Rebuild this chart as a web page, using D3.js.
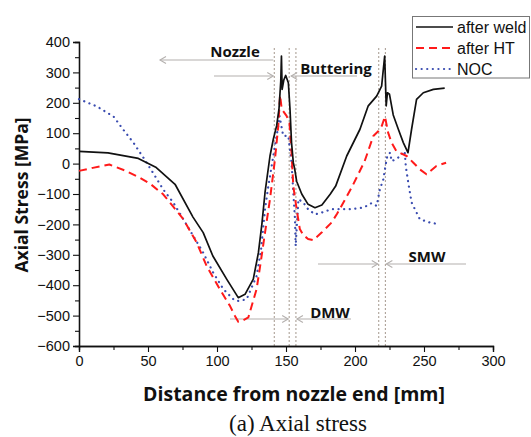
<!DOCTYPE html>
<html>
<head>
<meta charset="utf-8">
<script src="https://cdn.jsdelivr.net/npm/d3@7"></script>
<style>
  html, body { margin: 0; padding: 0; background: #fff; }
  svg { display: block; }
</style>
</head>
<body>
<svg id="chart" width="531" height="437"></svg>
<script>
// Axial stress along the pipe, distance in mm from the nozzle end
const afterWeld = [
  [0, 40], [21, 35], [30, 28], [43, 17], [56, -13], [69.6, -68], [82.6, -176],
  [90, -227], [97, -304], [107, -380], [115.4, -441], [120.3, -430], [126.3, -380],
  [130, -293], [132.5, -200], [134.8, -95], [138.4, 25], [140.8, 80], [143.2, 124],
  [144.9, 179], [146.2, 270], [146.7, 354], [147.2, 244], [148.4, 275], [149.8, 290],
  [151.7, 266], [152.9, 179], [154, 69], [155.3, 3], [156.2, -15], [157.7, -58],
  [161.4, -100], [166, -134], [171, -145], [176, -136], [182, -101], [186, -74],
  [194, 25], [203.6, 113], [209.6, 190], [215.7, 222], [219.3, 255], [221.5, 354],
  [222.6, 190], [223.5, 233], [225, 228], [227.7, 160], [231.4, 113], [235, 69],
  [238.4, 36], [241, 113], [244.6, 211], [249.5, 233], [256.8, 244], [265, 248]
];

const afterHT = [
  [0, -24], [10, -14], [22, -3], [33, -22], [44, -46], [52, -68], [61, -101],
  [68, -140], [75.6, -183], [85.3, -260], [92.5, -337], [102, -413], [109.4, -468],
  [113, -501], [115.4, -520], [118, -518], [122.7, -506], [128.7, -413], [131.5, -330],
  [134.8, -227], [138.4, -117], [142, 14], [144.4, 124], [145.7, 225], [146.9, 179],
  [150.4, 157], [152.5, 135], [154, 36], [155.3, -74], [157.7, -150], [160, -215],
  [162.5, -235], [166, -248], [169.8, -252], [175.8, -227], [183, -194], [187, -165],
  [192, -125], [198, -75], [207, 8], [213.3, 91], [217, 107], [219.5, 125],
  [221.7, 155], [224, 102], [226.5, 69], [230, 41], [237.4, 25], [242.3, 3],
  [247, -19], [251.8, -35], [259, -8], [266, 3]
];

const noc = [
  [0, 212], [13, 188], [25, 155], [32, 112], [39.4, 69], [46.6, 20], [53.6, -30],
  [61, -85], [68.3, -128], [75.6, -183], [82.8, -238], [90, -293], [97.3, -359],
  [104.6, -413], [111.8, -446], [114, -452], [118, -450], [121.5, -446], [128.7, -370],
  [132, -280], [134.8, -150], [137.2, -74], [140.8, 25], [144.4, 124], [145.3, 157],
  [148, 91], [151.7, 91], [154, 3], [155.3, -95], [156.5, -183], [157, -271],
  [159, -117], [162.5, -128], [166, -150], [171, -167], [176, -161], [183, -150],
  [196, -150], [206, -145], [212, -130], [215.7, -139], [218, -85], [220.5, -52],
  [222, -10], [223.5, 28], [225.5, 36], [226.5, 8], [230, 15], [234, 30],
  [236, 41], [236.8, -8], [238.6, -63], [241, -128], [247, -183], [254.3, -194],
  [261.6, -200]
];

const seriesNames = ["after weld", "after HT", "NOC"];
const xTicks = [0, 50, 100, 150, 200, 250, 300];
const yTicks = [400, 300, 200, 100, 0, -100, -200, -300, -400, -500, -600];
// Zone boundaries (mm)
const zoneLines = [141.5, 152.3, 157.2, 217.2, 222];

const svg = d3.select("#chart");
const x = d3.scaleLinear().domain([0, 300]).range([79, 493]);
const y = d3.scaleLinear().domain([-600, 400]).range([346, 42]);

const tickFont = "'Liberation Sans', Arial, sans-serif";
const boldFont = "'Open Sans', 'Noto Sans', sans-serif";

// zone boundary lines
svg.append("g").selectAll("line").data(zoneLines).join("line")
  .attr("x1", d => x(d)).attr("x2", d => x(d))
  .attr("y1", 48).attr("y2", y(-600))
  .attr("stroke", "#9a8c80").attr("stroke-width", 0.9)
  .attr("stroke-dasharray", "2,2");

// region arrows
const arrowColor = "#b4b0ae";
function arrowLine(x1, x2, yy, headAt) {
  svg.append("line").attr("x1", x1).attr("x2", x2).attr("y1", yy).attr("y2", yy)
    .attr("stroke", arrowColor).attr("stroke-width", 1.1);
  if (headAt === "left") {
    svg.append("path").attr("d", `M${x1 + 6},${yy - 3.5} L${x1},${yy} L${x1 + 6},${yy + 3.5}`)
      .attr("fill", "none").attr("stroke", arrowColor).attr("stroke-width", 1.1);
  } else if (headAt === "right") {
    svg.append("path").attr("d", `M${x2 - 6},${yy - 3.5} L${x2},${yy} L${x2 - 6},${yy + 3.5}`)
      .attr("fill", "none").attr("stroke", arrowColor).attr("stroke-width", 1.1);
  }
}
arrowLine(160, x(141.5) - 1, 60, "left");
arrowLine(214, x(141.5) - 1, 76, "right");
arrowLine(x(152.3) + 2, 357, 76, "left");
arrowLine(230, x(152.3) - 1, 319, "right");
arrowLine(x(157.2) + 1, 351, 319, "left");
arrowLine(318, x(217.2) - 1, 264, "right");
arrowLine(x(222) + 1, 466, 264, "left");

const zoneLabels = [
  { t: "Nozzle", x: 235, y: 57 },
  { t: "Buttering", x: 336, y: 74 },
  { t: "DMW", x: 330, y: 318 },
  { t: "SMW", x: 427, y: 262 }
];
svg.append("g").selectAll("text").data(zoneLabels).join("text")
  .attr("x", d => d.x).attr("y", d => d.y).attr("text-anchor", "middle")
  .attr("font-family", boldFont).attr("font-weight", "bold").attr("font-size", 15)
  .attr("fill", "#111").text(d => d.t);

// axes
const xAxis = svg.append("g").attr("transform", `translate(0,${y(-600)})`)
  .call(d3.axisBottom(x).tickValues(xTicks).tickSize(6).tickPadding(4).tickFormat(d3.format("d")));
const xMinor = svg.append("g").attr("transform", `translate(0,${y(-600)})`)
  .call(d3.axisBottom(x).tickValues(d3.range(25, 300, 50)).tickSize(4).tickFormat(""));
const yAxis = svg.append("g").attr("transform", `translate(${x(0)},0)`)
  .call(d3.axisLeft(y).tickValues(yTicks).tickSize(6).tickPadding(3).tickFormat(d3.format("d")));
const yMinor = svg.append("g").attr("transform", `translate(${x(0)},0)`)
  .call(d3.axisLeft(y).tickValues(d3.range(-550, 400, 100)).tickSize(4).tickFormat(""));

[xAxis, xMinor, yAxis, yMinor].forEach(g => {
  g.select(".domain").attr("stroke", "#111").attr("stroke-width", 1.3);
  g.selectAll(".tick line").attr("stroke", "#111").attr("stroke-width", 1.1);
  g.selectAll("text").attr("font-family", tickFont).attr("font-size", 14.5).attr("fill", "#111");
});

// series lines
const line = d3.line().x(d => x(d[0])).y(d => y(d[1]));
const styles = [
  { data: afterWeld, color: "#111111", width: 1.7, dash: null, cap: "butt" },
  { data: afterHT, color: "#ff1a1a", width: 2, dash: "8,5", cap: "butt" },
  { data: noc, color: "#3a4cb0", width: 2.2, dash: "0.1,5.5", cap: "round" }
];
// draw NOC first, then after HT, then after weld on top
[2, 1, 0].forEach(i => {
  const s = styles[i];
  svg.append("path").datum(s.data).attr("d", line)
    .attr("fill", "none").attr("stroke", s.color).attr("stroke-width", s.width)
    .attr("stroke-linejoin", "round").attr("stroke-linecap", s.cap)
    .attr("stroke-dasharray", s.dash);
});

// legend
const lg = svg.append("g");
lg.append("rect").attr("x", 412.5).attr("y", 16.5).attr("width", 117).attr("height", 61.5)
  .attr("fill", "#fff").attr("stroke", "#777").attr("stroke-width", 1);
seriesNames.forEach((name, i) => {
  const s = styles[i];
  const yy = 27 + i * 21;
  lg.append("line").attr("x1", 416).attr("x2", 453).attr("y1", yy).attr("y2", yy)
    .attr("stroke", s.color).attr("stroke-width", s.width)
    .attr("stroke-linecap", s.cap).attr("stroke-dasharray", s.dash);
  lg.append("text").attr("x", 457).attr("y", yy + 6)
    .attr("font-family", tickFont).attr("font-size", 16).attr("fill", "#111").text(name);
});

// axis titles
svg.append("text").attr("transform", `translate(28,195) rotate(-90)`)
  .attr("text-anchor", "middle").attr("font-family", boldFont).attr("font-weight", "bold")
  .attr("font-size", 17.5).attr("fill", "#111").text("Axial Stress [MPa]");
svg.append("text").attr("x", 294).attr("y", 401).attr("text-anchor", "middle")
  .attr("font-family", boldFont).attr("font-weight", "bold").attr("font-size", 19.5)
  .attr("fill", "#111").text("Distance from nozzle end [mm]");
svg.append("text").attr("x", 298).attr("y", 431).attr("text-anchor", "middle")
  .attr("font-family", "'Liberation Serif', 'Times New Roman', serif").attr("font-size", 23)
  .attr("fill", "#111").text("(a) Axial stress");
</script>
</body>
</html>
